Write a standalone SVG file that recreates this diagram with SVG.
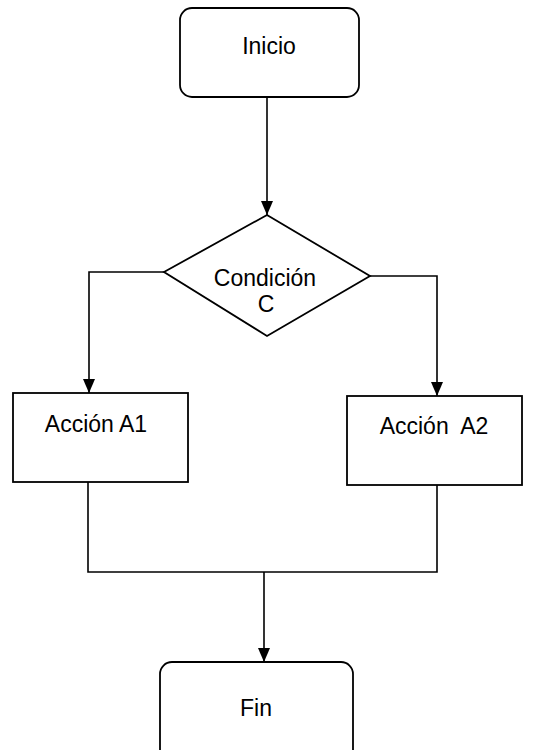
<svg xmlns="http://www.w3.org/2000/svg" width="534" height="750" viewBox="0 0 534 750">
<style>
.shape{fill:#fff;stroke:#000;stroke-width:1.8}
.conn{fill:none;stroke:#000;stroke-width:1.6}
.lbl{font-family:"Liberation Sans",Arial,sans-serif;font-size:23px;fill:#000;text-anchor:middle;white-space:pre}
</style>
<defs>
<marker id="arr" viewBox="0 0 14 12" refX="14" refY="6" markerWidth="14" markerHeight="12" markerUnits="userSpaceOnUse" orient="auto">
<path d="M0,0 L14,6 L0,12 Z" fill="#000"/>
</marker>
</defs>
<rect width="534" height="750" fill="#fff"/>
<g id="connectors">
<path class="conn" d="M267,97 V215" marker-end="url(#arr)"/>
<path class="conn" d="M164,272 H89 V393" marker-end="url(#arr)"/>
<path class="conn" d="M370,276 H437 V396" marker-end="url(#arr)"/>
<path class="conn" d="M88,482 V572 H437 V485"/>
<path class="conn" d="M264,572 V662" marker-end="url(#arr)"/>
</g>
<g id="inicio">
<rect class="shape" x="180" y="8" width="179" height="89" rx="12"/>
<text class="lbl" x="269" y="54">Inicio</text>
</g>
<g id="condicion">
<polygon class="shape" points="267,215 370,276 267,336 164,272"/>
<text class="lbl" x="265" y="286">Condición</text>
<text class="lbl" x="266" y="312">C</text>
</g>
<g id="accionA1">
<rect class="shape" x="13" y="393" width="175" height="89"/>
<text class="lbl" x="96" y="432">Acción A1</text>
</g>
<g id="accionA2">
<rect class="shape" x="347" y="396" width="175" height="89"/>
<text class="lbl" x="434" y="434">Acción  A2</text>
</g>
<g id="fin">
<rect class="shape" x="160" y="662" width="193" height="100" rx="12"/>
<text class="lbl" x="256" y="716">Fin</text>
</g>
</svg>
